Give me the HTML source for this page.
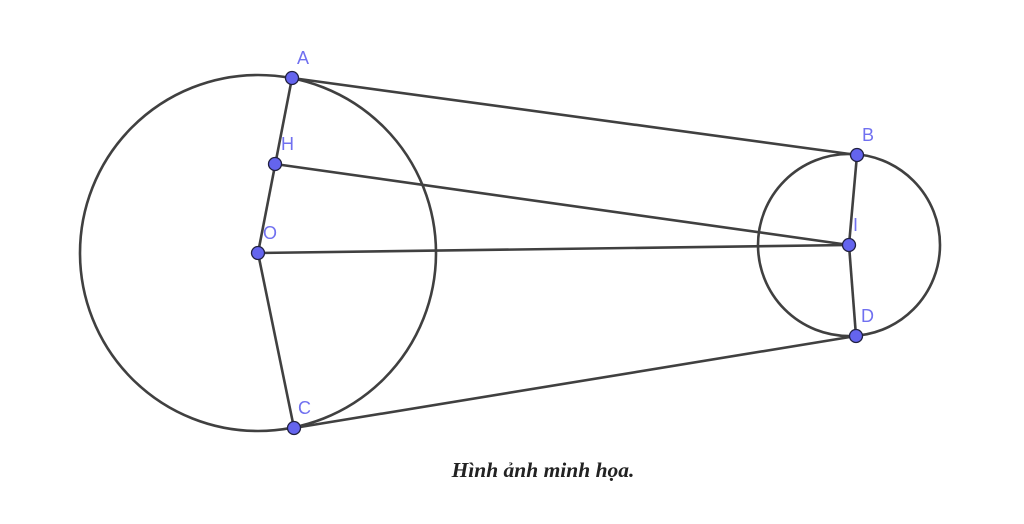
<!DOCTYPE html>
<html><head><meta charset="utf-8"><style>
html,body{margin:0;padding:0;background:#fff;}
svg{display:block;}
</style></head><body>
<svg width="1024" height="524" viewBox="0 0 1024 524" xmlns="http://www.w3.org/2000/svg">
<g fill="none" stroke="#404040" stroke-width="2.6">
<circle cx="258" cy="253" r="178"/>
<circle cx="849" cy="245" r="91"/>
<line x1="292" y1="78" x2="857" y2="155"/>
<line x1="294" y1="428" x2="856" y2="336"/>
<line x1="292" y1="78" x2="258" y2="253"/>
<line x1="258" y1="253" x2="294" y2="428"/>
<line x1="275" y1="164" x2="849" y2="245"/>
<line x1="258" y1="253" x2="849" y2="245"/>
<line x1="857" y1="155" x2="849" y2="245"/>
<line x1="849" y1="245" x2="856" y2="336"/>
</g>
<g fill="#6464ee" stroke="#202040" stroke-width="1.3">
<circle cx="292" cy="78" r="6.5"/>
<circle cx="275" cy="164" r="6.5"/>
<circle cx="258" cy="253" r="6.5"/>
<circle cx="294" cy="428" r="6.5"/>
<circle cx="857" cy="155" r="6.5"/>
<circle cx="849" cy="245" r="6.5"/>
<circle cx="856" cy="336" r="6.5"/>
</g>
<g fill="#7070f0" font-family="Liberation Sans, sans-serif" font-size="18">
<text x="297" y="64">A</text>
<text x="281" y="150">H</text>
<text x="263" y="239">O</text>
<text x="298" y="414">C</text>
<text x="862" y="141">B</text>
<text x="853" y="231">I</text>
<text x="861" y="322">D</text>
</g>
<text x="543" y="477" text-anchor="middle" font-family="Liberation Serif, serif" font-size="21.5" font-weight="bold" font-style="italic" fill="#222">Hình ảnh minh họa.</text>
</svg>
</body></html>
